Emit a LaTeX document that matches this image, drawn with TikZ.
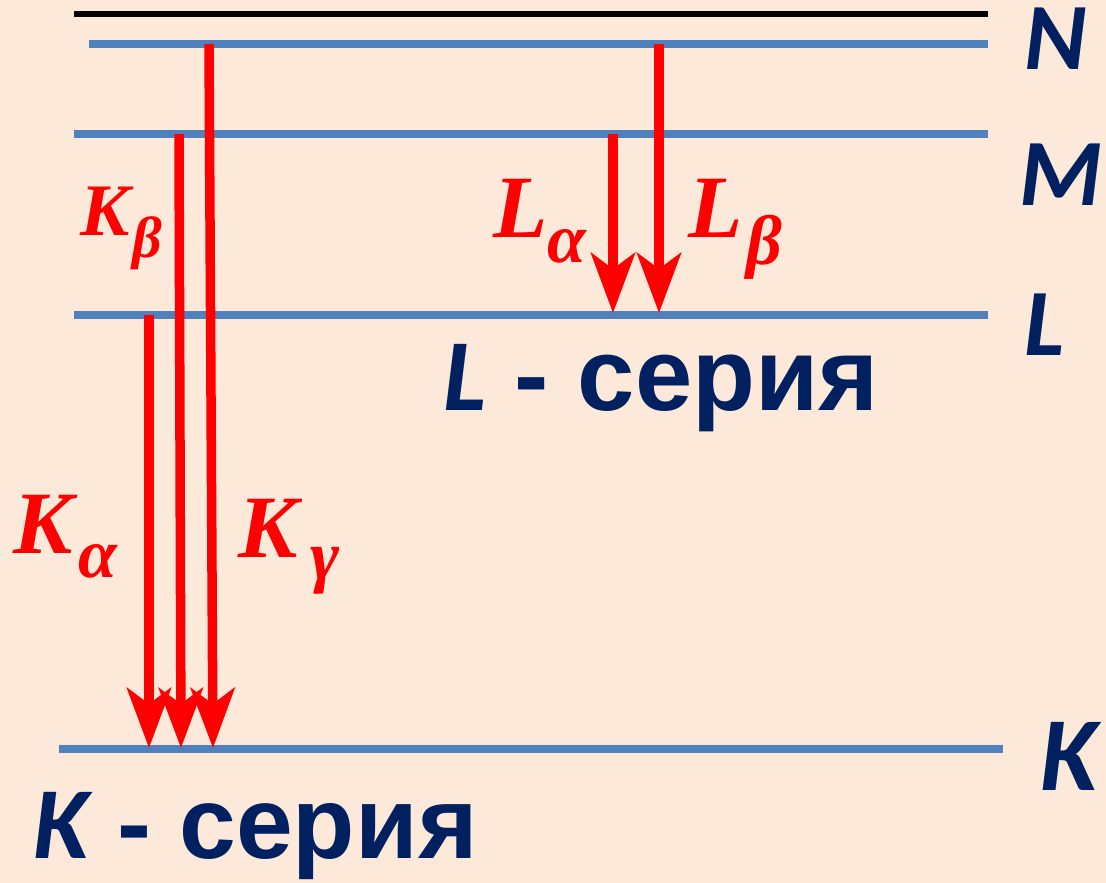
\documentclass[tikz,border=0pt]{standalone}
\usepackage{fontspec}
\usetikzlibrary{arrows.meta}
\newfontfamily\redserif{Liberation Serif}
\newfontfamily\carl{Carlito}
\newfontfamily\arl{Liberation Sans}
\definecolor{bgc}{HTML}{FDE9D9}
\definecolor{levelblue}{HTML}{4F81BD}
\definecolor{navy}{HTML}{002060}
\definecolor{redc}{HTML}{FF0000}
\newcommand\redlbl[6]{{\fontsize{#3}{#3}\selectfont #1}\kern#6pt\raisebox{-#5pt}{\fontsize{#4}{#4}\selectfont #2}}
\begin{document}
\begin{tikzpicture}[x=1pt,y=-1pt,
  level/.style={draw=levelblue,line width=7.5pt},
  trans/.style={draw=redc,line width=9.5pt,-{Stealth[length=60pt,width=44pt,inset=16pt]}},
  redtxt/.style={inner sep=0pt,anchor=base west,text=redc,font=\redserif\bfseries\itshape},
  shell/.style={inner sep=0pt,anchor=base west,text=navy,font=\carl\bfseries\itshape\fontsize{95}{95}\selectfont},
  series/.style={inner sep=0pt,anchor=base west,text=navy}]
\fill[bgc] (0,0) rectangle (1106,883);
\useasboundingbox (0,0) rectangle (1106,883);
% levels
\coordinate (top0) at (74,14);   \coordinate (top1) at (988,14);
\coordinate (n0) at (89,44);     \coordinate (n1) at (988,44);
\coordinate (m0) at (74,134);    \coordinate (m1) at (988,134);
\coordinate (l0) at (74,315);    \coordinate (l1) at (988,315);
\coordinate (k0) at (59,749);    \coordinate (k1) at (1003,749);
\draw[black,line width=6pt] (top0) -- (top1);
\draw[level] (n0) -- (n1);
\draw[level] (m0) -- (m1);
\draw[level] (l0) -- (l1);
\draw[level] (k0) -- (k1);
% transition endpoints
\coordinate (kas) at (149,315); \coordinate (kae) at (149,748);
\coordinate (kbs) at (179,134); \coordinate (kbe) at (181,748);
\coordinate (kgs) at (209,44);  \coordinate (kge) at (213,748);
\coordinate (las) at (613,134); \coordinate (lae) at (613,313);
\coordinate (lbs) at (659,44);  \coordinate (lbe) at (659,313);
\draw[trans] (kas) -- (kae);
\draw[trans] (kbs) -- (kbe);
\draw[trans] (kgs) -- (kge);
\draw[trans] (las) -- (lae);
\draw[trans] (lbs) -- (lbe);
% red labels
\node[redtxt] (kb) at (80,235) {\redlbl{K}{β}{74}{58}{22}{3}};
\node[redtxt] (ka) at (13,553) {\redlbl{K}{α}{89}{70}{24}{6}};
\node[redtxt] (kg) at (238,557) {\redlbl{K}{γ}{89}{70}{22}{13}};
\node[redtxt] (la) at (493,237) {\redlbl{L}{α}{89}{70}{25}{0}};
\node[redtxt] (lb) at (688,237) {\redlbl{L}{β}{89}{70}{27}{4}};
% shell labels
\node[shell] (sn) at (1024,70) {N};
\node[shell] (sm) at (1019,205) {M};
\node[shell] (sl) at (1024,355) {L};
\node[shell,font=\carl\bfseries\itshape\fontsize{105}{105}\selectfont] (sk) at (1040,790) {K};
% series
\node[series] (lser) at (443,410) {{\carl\bfseries\itshape\fontsize{102}{102}\selectfont L}{\arl\bfseries\fontsize{103}{103}\selectfont\ - серия}};
\node[series] (kser) at (33,858) {{\carl\bfseries\itshape\fontsize{102}{102}\selectfont K}{\arl\bfseries\fontsize{102}{102}\selectfont\ - серия}};
\end{tikzpicture}
\end{document}
